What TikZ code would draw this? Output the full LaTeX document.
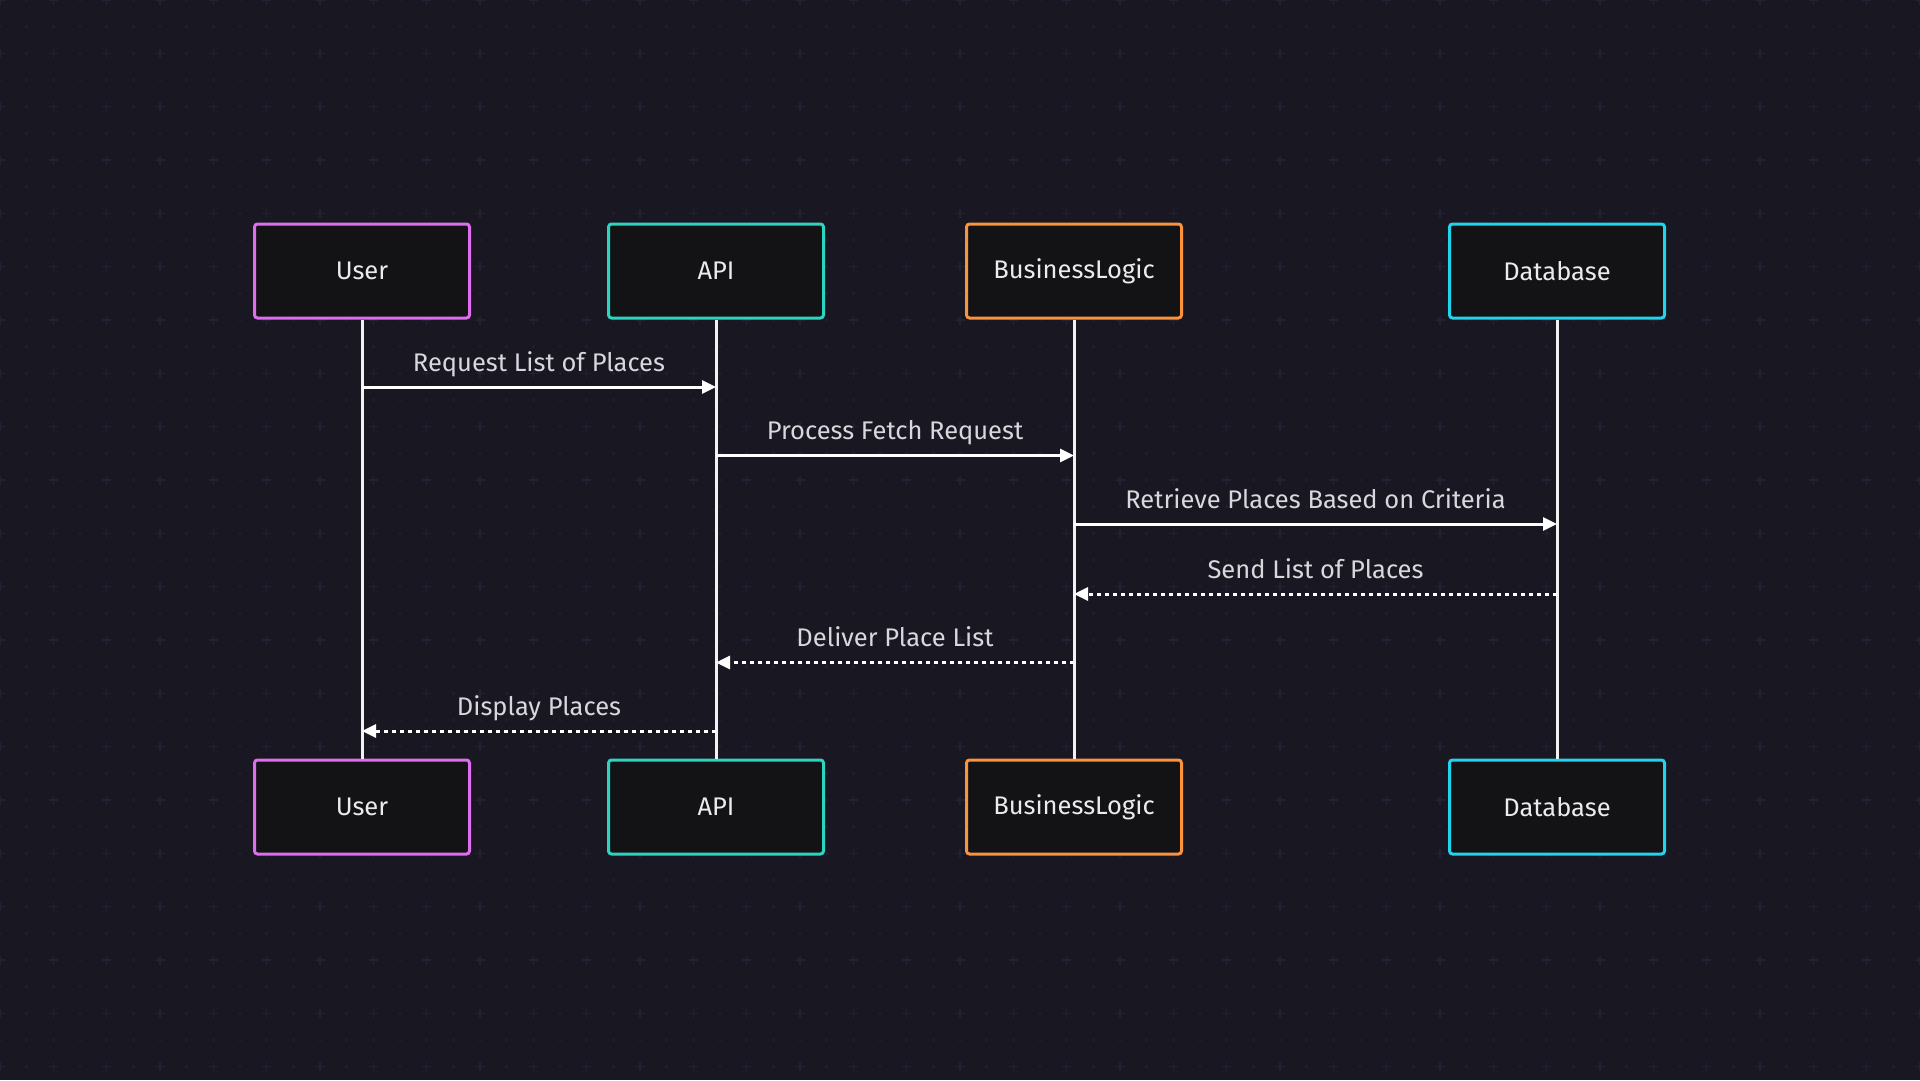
\documentclass[tikz,border=0pt]{standalone}
\usepackage{fontspec}
\setmainfont{Fira Sans}
\usetikzlibrary{arrows.meta,calc}
\definecolor{bgcol}{HTML}{181722}
\definecolor{gridcol}{HTML}{232234}
\definecolor{boxfill}{HTML}{131316}
\definecolor{usercol}{HTML}{DE6EEE}
\definecolor{apicol}{HTML}{2DD4BF}
\definecolor{logiccol}{HTML}{FB923C}
\definecolor{dbcol}{HTML}{22D3EE}
\definecolor{labelcol}{HTML}{D8D8DC}
\begin{document}
\begin{tikzpicture}[x=1pt,y=-1pt,
  actor/.style={draw=#1,line width=3pt,fill=boxfill,rounded corners=3pt,
    minimum width=215pt,minimum height=94pt,text=white!92!black,font=\fontsize{25.5}{30}\selectfont},
  lifeline/.style={draw=white!95!black,line width=3pt},
  msg/.style={draw=white,line width=3pt,-{Triangle[length=14pt,width=13pt]}},
  reply/.style={msg,dash pattern=on 4.5pt off 3.5pt},
  msglabel/.style={text=labelcol,font=\fontsize{25.5}{30}\selectfont,
    text height=18pt,text depth=6pt,above=5pt}]
\useasboundingbox (0,0) rectangle (1920,1080);
\fill[bgcol] (0,0) rectangle (1920,1080);
\begin{scope}
\clip (0,0) rectangle (1920,1080);
\foreach \i in {0,...,72}
  \foreach \j in {0,...,40}
    \fill[gridcol] (\i*26.667,\j*26.667) circle (1.5pt);
\foreach \i in {0,2,...,72}
  \foreach \j in {0,2,...,40}
    \draw[gridcol,line width=1.5pt] ($(\i*26.667,\j*26.667)+(-4.5,0)$) -- ++(9,0)
      ($(\i*26.667,\j*26.667)+(0,-4.5)$) -- ++(0,9);
\end{scope}

\node[actor=usercol] (user) at (362,271) {User};
\node[actor=apicol] (api) at (716,271) {API};
\node[actor=logiccol] (logic) at (1074,271) {BusinessLogic};
\node[actor=dbcol] (db) at (1557,271) {Database};
\node[actor=usercol] (userB) at (362,807) {User};
\node[actor=apicol] (apiB) at (716,807) {API};
\node[actor=logiccol] (logicB) at (1074,807) {BusinessLogic};
\node[actor=dbcol] (dbB) at (1557,807) {Database};

\foreach \top/\bot in {user/userB,api/apiB,logic/logicB,db/dbB}
  \draw[lifeline] (\top) -- (\bot);

\foreach \from/\to/\yy/\sty/\txt in {
    user/api/387/msg/Request List of Places,
    api/logic/455.5/msg/Process Fetch Request,
    logic/db/524/msg/Retrieve Places Based on Criteria,
    db/logic/594/reply/Send List of Places,
    logic/api/662.5/reply/Deliver Place List,
    api/user/731/reply/Display Places}{
  \coordinate (start) at (\from |- 0,\yy);
  \coordinate (end) at (\to |- 0,\yy);
  \draw[\sty] (start) -- (end) node[midway,msglabel] {\txt};
}
\end{tikzpicture}
\end{document}
